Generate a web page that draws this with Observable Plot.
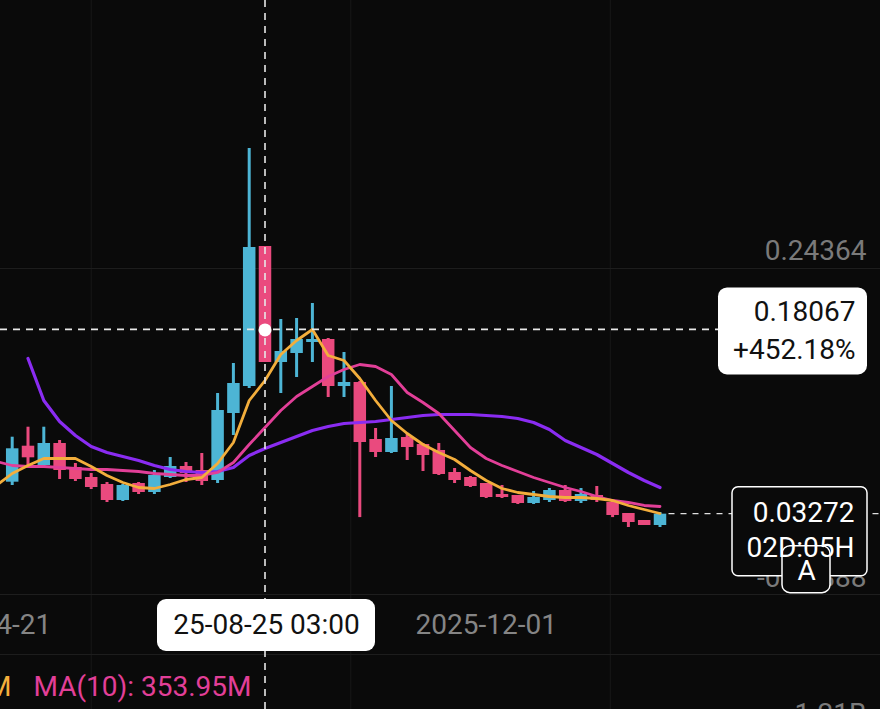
<!DOCTYPE html>
<html><head><meta charset="utf-8">
<script src="https://cdn.jsdelivr.net/npm/d3@7"></script>
<script src="https://cdn.jsdelivr.net/npm/@observablehq/plot@0.6"></script>
<style>
html,body{margin:0;padding:0;background:#0a0a0a;overflow:hidden}
</style></head><body><div id="chart"></div>
<script>
// ---- data (weekly candles) ----
const weeks = ["2025-04-28","2025-05-05","2025-05-12","2025-05-19","2025-05-26","2025-06-02","2025-06-09","2025-06-16","2025-06-23","2025-06-30","2025-07-07","2025-07-14","2025-07-21","2025-07-28","2025-08-04","2025-08-11","2025-08-18","2025-08-25","2025-09-01","2025-09-08","2025-09-15","2025-09-22","2025-09-29","2025-10-06","2025-10-13","2025-10-20","2025-10-27","2025-11-03","2025-11-10","2025-11-17","2025-11-24","2025-12-01","2025-12-08","2025-12-15","2025-12-22","2025-12-29","2026-01-05","2026-01-12","2026-01-19","2026-01-26","2026-02-02","2026-02-09","2026-02-16"];
const open  = [null,0.05839,0.08730,0.07180,0.08946,0.07019,0.06216,0.05654,0.04369,0.05735,0.05012,0.06216,0.07100,0.06778,0.05975,0.11355,0.13524,0.24766,0.15451,0.16174,0.17057,0.17298,0.13524,0.13845,0.09268,0.08224,0.09428,0.08866,0.08384,0.06618,0.06216,0.05735,0.04851,0.04771,0.04128,0.04369,0.05173,0.04289,0.04771,0.04209,0.03325,0.02763,0.02362];
const high  = [null,0.09452,0.10255,0.10255,0.09187,0.07340,0.06537,0.05815,0.05654,0.05815,0.06778,0.07822,0.07421,0.08143,0.12961,0.15370,0.32635,0.24766,0.18904,0.18984,0.20188,0.17378,0.16254,0.13926,0.10151,0.13524,0.09749,0.08946,0.08946,0.06939,0.06297,0.05735,0.05574,0.04771,0.05092,0.05333,0.05574,0.05333,0.05494,0.04289,0.03325,0.02763,0.03405];
const low   = [null,0.05574,0.07180,0.06939,0.06056,0.05895,0.05253,0.04209,0.04289,0.04851,0.04851,0.06136,0.05815,0.05574,0.05735,0.09589,0.13363,0.15451,0.12961,0.14246,0.15451,0.12640,0.12640,0.02997,0.07822,0.08143,0.07581,0.06698,0.06377,0.05735,0.05413,0.04530,0.04530,0.04048,0.04048,0.04209,0.04209,0.04128,0.04209,0.02997,0.02202,0.02362,0.02202];
const close = [null,0.08521,0.07798,0.08946,0.06778,0.06056,0.05413,0.04369,0.05574,0.05012,0.06377,0.07100,0.06537,0.05895,0.11596,0.13764,0.24685,0.15451,0.16335,0.17298,0.17298,0.13524,0.13845,0.09027,0.08224,0.09348,0.08625,0.07983,0.06457,0.05975,0.05494,0.04610,0.04610,0.04128,0.04610,0.05173,0.04289,0.04851,0.04369,0.03165,0.02603,0.02362,0.03272];
const ma5   = [0.05574,0.06537,0.07180,0.07742,0.07742,0.07742,0.07100,0.06377,0.05815,0.05413,0.05333,0.05654,0.06056,0.06216,0.07340,0.09027,0.12399,0.14005,0.16093,0.17217,0.18101,0.16013,0.15611,0.14166,0.12399,0.10793,0.09749,0.08866,0.08224,0.07662,0.06778,0.05975,0.05333,0.05012,0.04851,0.04691,0.04610,0.04610,0.04530,0.04369,0.03968,0.03647,0.03325];
const ma10  = [0.07501,0.07180,0.07100,0.07100,0.07019,0.06939,0.06859,0.06859,0.06778,0.06698,0.06537,0.06457,0.06377,0.06377,0.06618,0.07421,0.08866,0.10231,0.11596,0.12721,0.13524,0.14327,0.14889,0.15290,0.15130,0.14487,0.13042,0.12239,0.11355,0.09990,0.08625,0.07742,0.07180,0.06698,0.06216,0.05815,0.05413,0.05092,0.04691,0.04369,0.04209,0.03968,0.03888];
const ma30  = [null,null,0.15772,0.12399,0.10713,0.09589,0.08706,0.08224,0.07903,0.07581,0.07180,0.06859,0.06698,0.06618,0.06698,0.07019,0.07983,0.08545,0.09027,0.09509,0.09990,0.10312,0.10552,0.10633,0.10713,0.10874,0.11034,0.11195,0.11275,0.11275,0.11275,0.11195,0.11115,0.10954,0.10633,0.10071,0.09187,0.08625,0.08063,0.07340,0.06618,0.05975,0.05413];

const yTicks = [0.24364, -0.01888];
const yTickLabels = ["0.24364", "-0.01888"];
const xTicks = ["2025-04-21", "2025-12-01"];
const xTickLabels = ["2025-04-21", "2025-12-01"];
const gridDates = ["2025-06-09", "2025-10-02", "2026-01-25"];
const gridPrices = [0.2300, -0.0318, -0.0800];

const crossDate = "2025-08-25";
const crossPrice = 0.18067;
const crossPriceLabel = "0.18067";
const crossPct = "+452.18%";
const crossTimeLabel = "25-08-25 03:00";
const lastDate = "2026-02-16";
const lastPrice = 0.03272;
const lastPriceLabel = "0.03272";
const countdown = "02D:05H";
const volLabels = ["M", "MA(10): 353.95M"];
const volAxisLabel = "1.21B";

// ---- colours ----
const UP = "#4db5d5", DOWN = "#ea4a7e";
const C_MA5 = "#f3ae3c", C_MA10 = "#e23f98", C_MA30 = "#8a2cf2";
const BG = "#0a0a0a";

const parse = d3.utcParse("%Y-%m-%d");
const table = weeks.map((w, i) => ({
  date: parse(w), open: open[i], high: high[i], low: low[i], close: close[i],
  ma5: ma5[i], ma10: ma10[i], ma30: ma30[i]
}));
const candles = table.filter(d => d.open != null);

const W = 880, H = 709;
const WEEK = 7 * 864e5;
const k0 = parse("2025-05-05").getTime();
const pxPerWeek = 15.8, x0px = 11.7;
const xDomain = [new Date(k0 - (x0px / pxPerWeek) * WEEK), new Date(k0 + ((W - x0px) / pxPerWeek) * WEEK)];
const yDomain = [-0.124134, 0.445193];

const crossD = parse(crossDate), lastD = parse(lastDate);

const overlay = (index, scales, values, dims) => {
  const x = scales.x, y = scales.y;
  const w = dims.width, h = dims.height;
  const g = d3.create("svg:g");
  const cx = x(crossD), cy = y(crossPrice);
  const tipW = 149, tipX = w - 13 - tipW;
  g.append("line").attr("x1", 0).attr("x2", tipX).attr("y1", cy).attr("y2", cy)
    .attr("stroke", "#e8e8e8").attr("stroke-width", 1.6).attr("stroke-dasharray", "7,6");
  g.append("rect").attr("x", tipX).attr("y", cy - 42).attr("width", tipW).attr("height", 87)
    .attr("rx", 9).attr("fill", "#ffffff");
  const ly = y(lastPrice), lx = x(lastD) + 9;
  g.append("line").attr("x1", lx).attr("x2", w).attr("y1", ly).attr("y2", ly)
    .attr("stroke", "#e0e0e0").attr("stroke-width", 1.3).attr("stroke-dasharray", "6,6");
  g.append("rect").attr("x", w - 13 - 135).attr("y", ly - 27).attr("width", 135).attr("height", 89)
    .attr("rx", 6).attr("fill", BG).attr("stroke", "#ffffff").attr("stroke-width", 1.5);
  g.append("rect").attr("x", w - 98).attr("y", ly + 32).attr("width", 48).attr("height", 47)
    .attr("rx", 8).attr("fill", BG).attr("stroke", "#ffffff").attr("stroke-width", 1.5);
  g.append("rect").attr("x", cx + 1.5 - 109).attr("y", h - 110).attr("width", 218).attr("height", 52)
    .attr("rx", 9).attr("fill", "#ffffff");
  return g.node();
};

const FS = 28;
const plot = Plot.plot({
  width: W, height: H,
  marginTop: 0, marginRight: 0, marginBottom: 0, marginLeft: 0,
  style: {background: BG, fontFamily: "Roboto, 'DejaVu Sans', sans-serif", overflow: "visible"},
  x: {type: "utc", domain: xDomain, axis: null},
  y: {domain: yDomain, axis: null},
  marks: [
    Plot.ruleX(gridDates.map(parse), {stroke: "#181818", strokeWidth: 1}),
    Plot.ruleY(gridPrices, {stroke: "#1e1e1e", strokeWidth: 1}),
    Plot.ruleX(candles, {x: "date", y1: "low", y2: "high", stroke: d => d.close >= d.open ? UP : DOWN, strokeWidth: 3}),
    Plot.ruleX(candles, {x: "date", y1: "open", y2: "close", stroke: d => d.close >= d.open ? UP : DOWN, strokeWidth: 12.5}),
    Plot.line(table, {x: "date", y: "ma30", stroke: C_MA30, strokeWidth: 3.2}),
    Plot.line(table, {x: "date", y: "ma10", stroke: C_MA10, strokeWidth: 2.8}),
    Plot.line(table, {x: "date", y: "ma5", stroke: C_MA5, strokeWidth: 2.8}),
    Plot.ruleX([crossD], {stroke: "#e8e8e8", strokeWidth: 1.6, strokeDasharray: "7,6"}),
    Plot.text(yTicks, {y: yTicks, text: yTickLabels, frameAnchor: "right", dx: -14, textAnchor: "end", fill: "#7a7a7a", fontSize: FS}),
    Plot.text(xTicks, {x: xTicks.map(parse), text: xTickLabels, frameAnchor: "bottom", lineAnchor: "middle", dy: -84, fill: "#858585", fontSize: FS}),
    overlay,
    Plot.dot([crossPrice], {x: () => crossD, y: d => d, r: 6.5, fill: "#ffffff"}),
    Plot.text([crossPriceLabel], {y: () => crossPrice, text: d => d, frameAnchor: "right", dx: -25, dy: -18, textAnchor: "end", fill: "#111", fontSize: FS}),
    Plot.text([crossPct], {y: () => crossPrice, text: d => d, frameAnchor: "right", dx: -25, dy: 20, textAnchor: "end", fill: "#111", fontSize: FS}),
    Plot.text([lastPriceLabel], {y: () => lastPrice, text: d => d, frameAnchor: "right", dx: -26, dy: -1, textAnchor: "end", fill: "#fff", fontSize: FS}),
    Plot.text([countdown], {y: () => lastPrice, text: d => d, frameAnchor: "right", dx: -26, dy: 34, textAnchor: "end", fill: "#fff", fontSize: FS}),
    Plot.text(["A"], {y: () => lastPrice, text: d => d, frameAnchor: "right", dx: -74, dy: 57, textAnchor: "middle", fill: "#fff", fontSize: FS}),
    Plot.text([crossTimeLabel], {x: () => crossD, text: d => d, frameAnchor: "bottom", lineAnchor: "middle", dx: 1.5, dy: -84, fill: "#111", fontSize: FS}),
    Plot.text([volLabels[0]], {text: d => d, frameAnchor: "bottom-left", lineAnchor: "middle", dx: 11, dy: -22, textAnchor: "end", fill: C_MA5, fontSize: FS}),
    Plot.text([volLabels[1]], {text: d => d, frameAnchor: "bottom-left", lineAnchor: "middle", dx: 33, dy: -22, textAnchor: "start", fill: C_MA10, fontSize: FS}),
    Plot.text([volAxisLabel], {text: d => d, frameAnchor: "bottom-right", lineAnchor: "middle", dx: -14, dy: 5, textAnchor: "end", fill: "#7a7a7a", fontSize: FS})
  ]
});
document.getElementById("chart").appendChild(plot);
</script>
</body></html>
